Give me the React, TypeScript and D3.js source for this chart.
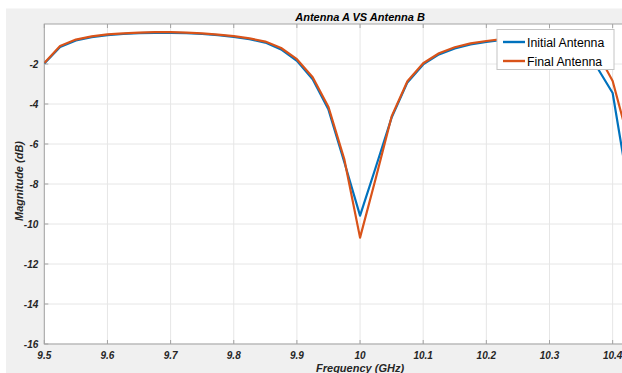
import React from "react";
import * as d3 from "d3";

// frequency samples (GHz)
const freq = [
  9.5, 9.525, 9.55, 9.575, 9.6, 9.625, 9.65, 9.675, 9.7, 9.725,
  9.75, 9.775, 9.8, 9.825, 9.85, 9.875, 9.9, 9.925, 9.95, 9.975,
  10.0, 10.025, 10.05, 10.075, 10.1, 10.125, 10.15, 10.175, 10.2, 10.225,
  10.25, 10.275, 10.3, 10.325, 10.35, 10.375, 10.4, 10.425,
];

// magnitude (dB)
const initialDb = [
  -1.98, -1.15, -0.82, -0.66, -0.56, -0.5, -0.46, -0.44, -0.44, -0.46,
  -0.5, -0.56, -0.64, -0.76, -0.93, -1.27, -1.84, -2.76, -4.28, -6.9,
  -9.58, -7.15, -4.68, -2.92, -2.02, -1.52, -1.22, -1.02, -0.89, -0.8,
  -0.74, -0.74, -0.86, -1.15, -1.6, -2.15, -3.45, -8.2,
];

const finalDb = [
  -1.95, -1.1, -0.78, -0.62, -0.52, -0.47, -0.43, -0.41, -0.41, -0.43,
  -0.47, -0.53, -0.61, -0.72, -0.88, -1.2, -1.76, -2.66, -4.15, -6.75,
  -10.68, -7.7, -4.62, -2.86, -1.96, -1.46, -1.16, -0.97, -0.85, -0.76,
  -0.7, -0.69, -0.76, -0.92, -1.1, -1.4, -2.85, -5.8,
];

const xTicks = [9.5, 9.6, 9.7, 9.8, 9.9, 10, 10.1, 10.2, 10.3, 10.4];
const yTicks = [-16, -14, -12, -10, -8, -6, -4, -2];

const seriesNames = ["Initial Antenna", "Final Antenna"];
const seriesColors = ["#0072BD", "#D95319"];

const W = 622;
const H = 373;
const left = 44.3;
const right = 675.8;
const top = 24;
const bottom = 344;

const App = () => {
  const x = d3.scaleLinear().domain([9.5, 10.5]).range([left, right]);
  const y = d3.scaleLinear().domain([-16, 0]).range([bottom, top]);

  const line = d3
    .line<number>()
    .x((_, i) => x(freq[i]))
    .y((d) => y(d));

  const series = [initialDb, finalDb];
  const font = "'Liberation Sans', Arial, sans-serif";
  const axisColor = "#a3a3a3";
  const textColor = "#262626";

  return (
    <svg
      width={W}
      height={H}
      style={{ position: "absolute", left: 0, top: 0, fontFamily: font }}
    >
      <rect x={0} y={0} width={W} height={H} fill="#ffffff" />
      <rect x={6} y={8.5} width={W - 6} height={H - 8.5} fill="#f0f0f0" />
      <rect x={left} y={top} width={right - left} height={bottom - top} fill="#ffffff" />
      <defs>
        <clipPath id="plotClip">
          <rect x={left} y={top} width={right - left} height={bottom - top} />
        </clipPath>
      </defs>

      {/* grid */}
      {xTicks.map((t) => (
        <line key={"gx" + t} x1={x(t)} x2={x(t)} y1={top} y2={bottom} stroke="#e6e6e6" strokeWidth={1} />
      ))}
      {yTicks.map((t) => (
        <line key={"gy" + t} x1={left} x2={right} y1={y(t)} y2={y(t)} stroke="#e6e6e6" strokeWidth={1} />
      ))}

      {/* box */}
      <rect x={left} y={top} width={right - left} height={bottom - top} fill="none" stroke={axisColor} strokeWidth={1} />
      {xTicks.map((t) => (
        <g key={"tx" + t}>
          <line x1={x(t)} x2={x(t)} y1={bottom} y2={bottom - 4} stroke={axisColor} />
          <line x1={x(t)} x2={x(t)} y1={top} y2={top + 4} stroke={axisColor} />
        </g>
      ))}
      {yTicks.map((t) => (
        <line key={"ty" + t} x1={left} x2={left + 4} y1={y(t)} y2={y(t)} stroke={axisColor} />
      ))}

      {/* curves */}
      <g clipPath="url(#plotClip)">
        {series.map((s, i) => (
          <path
            key={seriesNames[i]}
            d={line(s) || ""}
            fill="none"
            stroke={seriesColors[i]}
            strokeWidth={2.2}
            strokeLinejoin="round"
          />
        ))}
      </g>

      {/* tick labels */}
      {xTicks.map((t) => (
        <text
          key={"lx" + t}
          x={x(t)}
          y={bottom + 15}
          textAnchor="middle"
          fontSize={10}
          fontWeight="bold"
          fontStyle="italic"
          fill={textColor}
        >
          {t}
        </text>
      ))}
      {yTicks.map((t) => (
        <text
          key={"ly" + t}
          x={left - 6}
          y={y(t) + 3.5}
          textAnchor="end"
          fontSize={10}
          fontWeight="bold"
          fontStyle="italic"
          fill={textColor}
        >
          {t}
        </text>
      ))}

      {/* titles */}
      <text
        x={(left + right) / 2}
        y={20.5}
        textAnchor="middle"
        fontSize={11}
        fontWeight="bold"
        fontStyle="italic"
        fill="#000"
      >
        Antenna A VS Antenna B
      </text>
      <text
        x={(left + right) / 2}
        y={372}
        textAnchor="middle"
        fontSize={11}
        fontWeight="bold"
        fontStyle="italic"
        fill={textColor}
      >
        Frequency (GHz)
      </text>
      <text
        transform={`translate(23, 181) rotate(-90)`}
        textAnchor="middle"
        fontSize={11}
        fontWeight="bold"
        fontStyle="italic"
        fill={textColor}
      >
        Magnitude (dB)
      </text>

      {/* legend */}
      <g>
        <rect x={497} y={29.5} width={117} height={40} fill="#ffffff" stroke="#c4c4c4" strokeWidth={1} />
        {seriesNames.map((name, i) => (
          <g key={"lg" + name}>
            <line
              x1={503}
              x2={525}
              y1={42 + i * 19}
              y2={42 + i * 19}
              stroke={seriesColors[i]}
              strokeWidth={2.4}
            />
            <text x={527} y={46.5 + i * 19} fontSize={12.3} fill="#000">
              {name}
            </text>
          </g>
        ))}
      </g>
    </svg>
  );
};

export default App;
